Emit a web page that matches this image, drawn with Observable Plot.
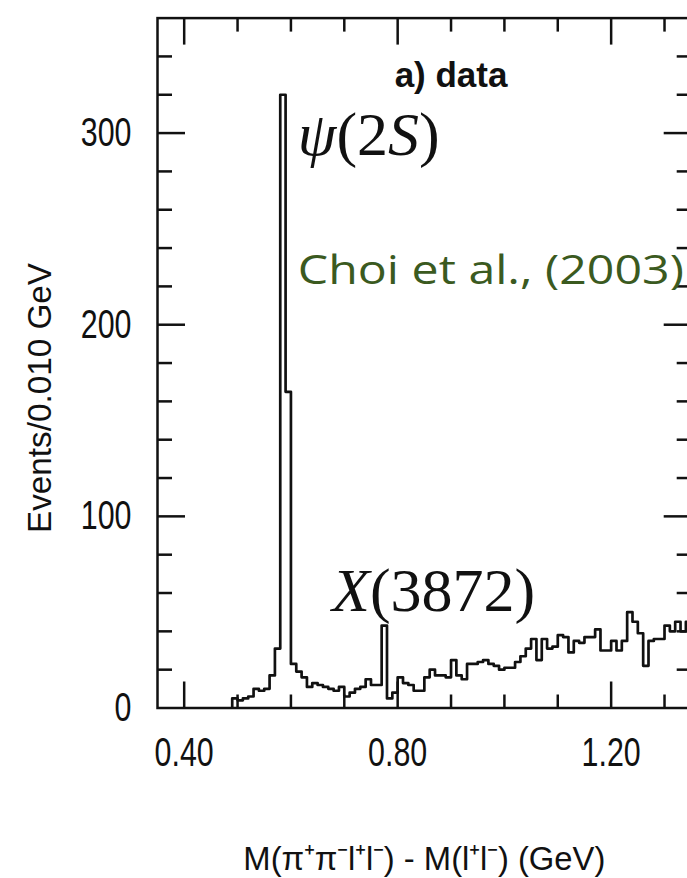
<!DOCTYPE html>
<html><head><meta charset="utf-8">
<script src="https://cdn.jsdelivr.net/npm/d3@7"></script>
<script src="https://cdn.jsdelivr.net/npm/@observablehq/plot@0.6"></script>
<style>
html,body{margin:0;padding:0;background:#fff;overflow:hidden;}
#chart{width:687px;height:878px;overflow:hidden;}
#chart svg{max-width:none !important;width:700px !important;height:878px !important;display:block;}
</style></head><body><div id="chart"></div>
<script>
// ---- data ----
const firstBinLow = 0.49;   // GeV, low edge of first filled bin
const binWidth = 0.01;      // GeV
const counts = [
  5, 4, 5, 6, 10, 9, 10, 17, 31, 320,      // 0.49 - 0.58
  165, 23, 19, 16, 11, 13, 12, 11, 10, 9,  // 0.59 - 0.68
  11, 6, 8, 10, 11, 15, 12, 12, 43, 5,     // 0.69 - 0.78
  8, 16, 13, 12, 9, 9, 16, 20, 17, 17,     // 0.79 - 0.88
  16, 25, 17, 15, 23, 23, 24, 25, 23, 22,  // 0.89 - 0.98
  20, 21, 21, 24, 27, 31, 36, 25, 36, 31,  // 0.99 - 1.08
  32, 38, 37, 29, 35, 34, 37, 37, 41, 30,  // 1.09 - 1.18
  30, 35, 30, 35, 50, 45, 39, 22, 35, 36,  // 1.19 - 1.28
  36, 43, 40, 45, 40, 45                   // 1.29 - 1.34
];
const xDomain = [0.35, 1.35];
const yDomain = [0, 360];
const xMajorTicks = [0.4, 0.8, 1.2];
const xMinorTicks = [0.5, 0.6, 0.7, 0.9, 1.0, 1.1, 1.3];
const yMajorTicks = [100, 200, 300];
const yMinorTicks = [20, 40, 60, 80, 120, 140, 160, 180, 220, 240, 260, 280, 320, 340];
const xTickLabels = [0.4, 0.8, 1.2];
const yTickLabels = [0, 100, 200, 300];
const xTitle = "M(π⁺π⁻l⁺l⁻) - M(l⁺l⁻) (GeV)";
const yTitle = "Events/0.010 GeV";
const panelLabel = [{x: 0.90, y: 330, text: "a) data"}];
const mathLabels = [
  {x: 0.613, y: 299, text: "ψ(2S)"},
  {x: 0.677, y: 61, text: "X(3872)"}
];
const citation = [{x: 0.613, y: 228, text: "Choi et al., (2003)"}];

// ---- histogram outline points built from the bins ----
const r2 = v => Math.round(v * 1000) / 1000;
const steps = [{x: firstBinLow, y: 0}];
counts.forEach((c, i) => steps.push({x: r2(firstBinLow + i * binWidth), y: c}));
const lastEdge = r2(firstBinLow + counts.length * binWidth);
steps.push({x: lastEdge, y: counts[counts.length - 1]});

const ink = "#111";
const W = 700, H = 878;
const sans = "'Liberation Sans', Arial, Helvetica, sans-serif";
const serif = "'Liberation Serif', 'Times New Roman', serif";
const tickBase = {stroke: ink, strokeWidth: 2.5, label: null, tickFormat: () => ""};

const plot = Plot.plot({
  width: W, height: H,
  marginLeft: 157, marginRight: 9.3, marginTop: 17.6, marginBottom: 170.5,
  style: {background: "#fff", color: ink},
  x: {domain: xDomain},
  y: {domain: yDomain},
  marks: [
    // inward ticks on all four sides
    Plot.axisX(xMajorTicks, {...tickBase, anchor: "top", frameAnchor: "bottom", tickSize: 27}),
    Plot.axisX(xMinorTicks, {...tickBase, anchor: "top", frameAnchor: "bottom", tickSize: 14}),
    Plot.axisX(xMajorTicks, {...tickBase, anchor: "bottom", frameAnchor: "top", tickSize: 27}),
    Plot.axisX(xMinorTicks, {...tickBase, anchor: "bottom", frameAnchor: "top", tickSize: 14}),
    Plot.axisY(yMajorTicks, {...tickBase, anchor: "right", frameAnchor: "left", tickSize: 27}),
    Plot.axisY(yMinorTicks, {...tickBase, anchor: "right", frameAnchor: "left", tickSize: 14}),
    Plot.axisY(yMajorTicks, {...tickBase, anchor: "left", frameAnchor: "right", tickSize: 27}),
    Plot.axisY(yMinorTicks, {...tickBase, anchor: "left", frameAnchor: "right", tickSize: 14}),
    // tick labels
    Plot.axisX(xTickLabels, {anchor: "bottom", tickSize: 0, tickPadding: 30, tickFormat: d3.format(".2f"),
      fontSize: 40, fontFamily: sans, fill: ink, label: null}),
    Plot.axisY(yTickLabels, {anchor: "left", tickSize: 0, tickPadding: 26, tickFormat: d3.format("d"),
      fontSize: 40, fontFamily: sans, fill: ink, label: null}),
    // histogram
    Plot.line(steps, {x: "x", y: "y", curve: "step-after", stroke: ink, strokeWidth: 2.7, clip: true}),
    Plot.frame({stroke: ink, strokeWidth: 2.5}),
    // annotations
    Plot.text(panelLabel, {x: "x", y: "y", text: "text", fontSize: 35, fontWeight: "bold",
      fontFamily: sans, fill: ink, textAnchor: "middle", lineAnchor: "middle"}),
    Plot.text(mathLabels, {x: "x", y: "y", text: "text", fontSize: 62, fontFamily: serif,
      fill: ink, textAnchor: "start", lineAnchor: "middle"}),
    Plot.text(citation, {x: "x", y: "y", text: "text", fontSize: 41, fontFamily: "'Open Sans', Lato, sans-serif",
      fill: "#3b5a1f", textAnchor: "start", lineAnchor: "middle"}),
    // axis titles
    Plot.text([xTitle], {text: d => d, frameAnchor: "bottom", dy: 151, fontSize: 34, fontFamily: sans,
      fill: ink, textAnchor: "middle", lineAnchor: "middle"}),
    Plot.text([yTitle], {text: d => d, frameAnchor: "left", dx: -117, dy: 35, rotate: -90, fontSize: 34,
      fontFamily: sans, fill: ink, textAnchor: "middle", lineAnchor: "middle"})
  ]
});

// ---- typographic touches ----
const sel = d3.select(plot);
function squeeze(node, k) {
  const t = node.getAttribute("transform");
  if (t) node.setAttribute("transform", t + ` scale(${k},1)`);
}
sel.selectAll('g[aria-label="x-axis tick label"] text, g[aria-label="y-axis tick label"] text')
  .each(function() { squeeze(this, 0.76); });
sel.selectAll("text").each(function() {
  const t = this.textContent;
  if (t === "ψ(2S)") {
    this.innerHTML = '<tspan font-style="italic">ψ</tspan>(2<tspan font-style="italic">S</tspan>)';
  } else if (t === "X(3872)") {
    this.innerHTML = '<tspan font-style="italic">X</tspan>(3872)';
  } else if (t === xTitle) {
    this.setAttribute("textLength", 362); this.setAttribute("lengthAdjust", "spacingAndGlyphs");
  } else if (t === yTitle) {
    this.setAttribute("textLength", 270); this.setAttribute("lengthAdjust", "spacingAndGlyphs");
  } else if (t === "Choi et al., (2003)") {
    this.setAttribute("textLength", 386); this.setAttribute("lengthAdjust", "spacingAndGlyphs");
  }
});
document.getElementById("chart").appendChild(plot);
</script></body></html>
